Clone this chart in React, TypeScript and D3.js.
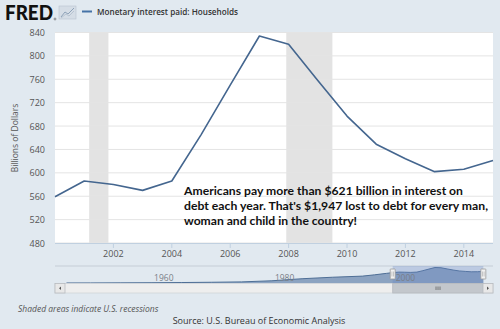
import React from "react";
import * as d3 from "d3";

const years = [2000, 2001, 2002, 2003, 2004, 2005, 2006, 2007, 2008, 2009, 2010, 2011, 2012, 2013, 2014, 2015];
const interest = [559, 586, 580, 570, 586, 665, 750, 834, 820, 758, 697, 649, 624, 602, 606, 621];
const recessions: [number, number][] = [[2001.17, 2001.83], [2007.92, 2009.5]];
const yTicks = [480, 520, 560, 600, 640, 680, 720, 760, 800, 840];
const xTicks = [2002, 2004, 2006, 2008, 2010, 2012, 2014];

const navYears = [1946, 1950, 1955, 1960, 1965, 1970, 1975, 1980, 1985, 1990, 1995, 1997, 1999, 2000, 2001, 2002, 2003, 2004, 2005, 2006, 2007, 2008, 2009, 2010, 2011, 2012, 2013, 2014, 2015];
const navValues = [2, 4, 8, 15, 25, 40, 60, 120, 230, 310, 370, 440, 520, 559, 586, 580, 570, 586, 665, 750, 834, 820, 758, 697, 649, 624, 602, 606, 621];
const navTicks = [1960, 1980, 2000];

const title = "Monetary interest paid: Households";
const note = [
  "Americans pay more than $621 billion in interest on",
  "debt each year. That's $1,947 lost to debt for every man,",
  "woman and child in the country!",
];

export default function App() {
  const W = 500, H = 329;
  const L = 55, R = 493, T = 32.5, B = 243;
  const x = d3.scaleLinear().domain([2000, 2015]).range([L, R]);
  const y = d3.scaleLinear().domain([480, 840]).range([B, T]);
  const line = d3.line<number>().x((_, i) => x(years[i])).y((d) => y(d));

  const nx = d3.scaleLinear().domain([1944.1, 2016.6]).range([L, R]);
  const ny = d3.scaleLinear().domain([0, 834]).range([283, 267.5]);
  const navArea = d3.area<number>().x((_, i) => nx(navYears[i])).y0(283).y1((d) => ny(d));
  const navLine = d3.line<number>().x((_, i) => nx(navYears[i])).y((d) => ny(d));
  const s0 = nx(2000), s1 = nx(2015);

  const font = "'Open Sans', 'DejaVu Sans', sans-serif";
  const noteWidths = [279, 304, 173];

  return (
    <svg width={W} height={H} style={{ position: "absolute", left: 0, top: 0, display: "block" }}>
      <rect x={0} y={0} width={W} height={H} fill="#e1e9f0" />
      {/* header */}
      <text x={5} y={20} fontFamily="Lato, 'DejaVu Sans', sans-serif" fontWeight={900} fontSize={20} fill="#111" textLength={48} lengthAdjust="spacingAndGlyphs">FRED</text>
      <circle cx={55} cy={19} r={1} fill="none" stroke="#111" strokeWidth={0.4} />
      <rect x={59} y={6} width={17} height={13} fill="#d5dde6" stroke="#b9c4cf" strokeWidth={0.6} />
      <path d="M61,17 L65,12 L68,14 L74,8" fill="none" stroke="#8ea2b8" strokeWidth={1} />
      <path d="M61,18 L66,14 L69,16 L74,11" fill="none" stroke="#aebccb" strokeWidth={0.8} />
      <line x1={82} x2={92} y1={11.5} y2={11.5} stroke="#4572a7" strokeWidth={2} />
      <text x={97} y={15} fontFamily={font} fontWeight={600} fontSize={9.5} fill="#333" textLength={141} lengthAdjust="spacingAndGlyphs">{title}</text>

      {/* plot */}
      <rect x={L} y={T} width={R - L} height={B - T} fill="#ffffff" />
      {recessions.map(([a, b], i) => (
        <rect key={i} x={x(a)} y={T} width={x(b) - x(a)} height={B - T} fill="#e3e3e3" />
      ))}
      {yTicks.map((t) => (
        <line key={t} x1={L} x2={R} y1={y(t)} y2={y(t)} stroke="#e4e4e4" strokeWidth={1} />
      ))}
      {yTicks.map((t) => (
        <text key={"l" + t} x={45} y={y(t) + 3.5} textAnchor="end" fontFamily={font} fontSize={9} fill="#555">{t}</text>
      ))}
      <text transform={`translate(18,138) rotate(-90)`} textAnchor="middle" fontFamily={font} fontSize={8.5} fill="#555">Billions of Dollars</text>
      <line x1={L} x2={R} y1={B + 0.5} y2={B + 0.5} stroke="#c0d0e0" strokeWidth={1} />
      {xTicks.map((t) => (
        <g key={t}>
          <line x1={x(t)} x2={x(t)} y1={B} y2={B + 5} stroke="#c0d0e0" strokeWidth={1} />
          <text x={x(t)} y={257} textAnchor="middle" fontFamily={font} fontSize={9} fill="#555">{t}</text>
        </g>
      ))}
      <path d={line(interest) || ""} fill="none" stroke="#44668f" strokeWidth={1.6} strokeLinejoin="round" />

      {note.map((s, i) => (
        <text key={i} x={184} y={195 + i * 15} fontFamily="Lato, 'Open Sans', sans-serif" fontWeight={700} fontSize={12} fill="#111" textLength={noteWidths[i]} lengthAdjust="spacingAndGlyphs">{s}</text>
      ))}

      {/* navigator */}
      <line x1={L} x2={R} y1={266} y2={266} stroke="#c5cdd6" strokeWidth={1} />
      <path d={navArea(navValues) || ""} fill="#7d97b8" fillOpacity={0.85} />
      <path d={navLine(navValues) || ""} fill="none" stroke="#4f6f96" strokeWidth={1} />
      <rect x={s0} y={266} width={s1 - s0} height={17} fill="#6685c2" fillOpacity={0.3} />
      {navTicks.map((t) => (
        <text key={t} x={nx(t) + 3} y={281} fontFamily={font} fontSize={8.5} fill="#7a7f87">{t}</text>
      ))}
      {[s0, s1].map((hx, i) => (
        <g key={i}>
          <rect x={hx - 2.5} y={269} width={5} height={10} fill="#f2f2f2" stroke="#999" strokeWidth={0.8} rx={0.5} />
          <line x1={hx - 0.8} x2={hx - 0.8} y1={271.5} y2={276.5} stroke="#999" strokeWidth={0.5} />
          <line x1={hx + 0.8} x2={hx + 0.8} y1={271.5} y2={276.5} stroke="#999" strokeWidth={0.5} />
        </g>
      ))}
      {/* scrollbar */}
      <rect x={L} y={283.5} width={R - L} height={9.5} fill="#eeeeee" stroke="#d0d4d8" strokeWidth={0.8} />
      <rect x={s0} y={283.5} width={s1 - s0} height={9.5} fill="#c3c7cc" stroke="#b5b9be" strokeWidth={0.8} />
      {[-2, 0, 2].map((d) => (
        <line key={d} x1={(s0 + s1) / 2 + d} x2={(s0 + s1) / 2 + d} y1={286.5} y2={290} stroke="#555" strokeWidth={0.7} />
      ))}
      <rect x={L} y={283.5} width={10} height={9.5} fill="#e8e8e8" stroke="#b8bcc0" strokeWidth={0.8} />
      <path d={`M${L + 6},286.5 L${L + 4},288.25 L${L + 6},290 Z`} fill="#555" />
      <rect x={R - 10} y={283.5} width={10} height={9.5} fill="#e8e8e8" stroke="#b8bcc0" strokeWidth={0.8} />
      <path d={`M${R - 6},286.5 L${R - 4},288.25 L${R - 6},290 Z`} fill="#555" />

      <text x={18} y={312} fontFamily={font} fontStyle="italic" fontSize={8.5} fill="#555">Shaded areas indicate U.S. recessions</text>
      <text x={259} y={324} textAnchor="middle" fontFamily={font} fontSize={9} fill="#333">Source: U.S. Bureau of Economic Analysis</text>
    </svg>
  );
}
